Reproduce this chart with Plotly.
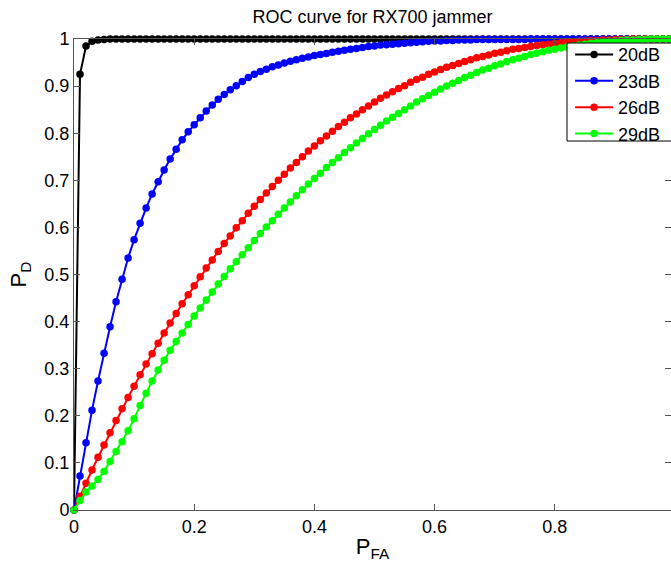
import plotly.graph_objects as go

pfa = [0.00, 0.01, 0.02, 0.03, 0.04, 0.05, 0.06, 0.07, 0.08, 0.09,
       0.10, 0.11, 0.12, 0.13, 0.14, 0.15, 0.16, 0.17, 0.18, 0.19,
       0.20, 0.21, 0.22, 0.23, 0.24, 0.25, 0.26, 0.27, 0.28, 0.29,
       0.30, 0.31, 0.32, 0.33, 0.34, 0.35, 0.36, 0.37, 0.38, 0.39,
       0.40, 0.41, 0.42, 0.43, 0.44, 0.45, 0.46, 0.47, 0.48, 0.49,
       0.50, 0.51, 0.52, 0.53, 0.54, 0.55, 0.56, 0.57, 0.58, 0.59,
       0.60, 0.61, 0.62, 0.63, 0.64, 0.65, 0.66, 0.67, 0.68, 0.69,
       0.70, 0.71, 0.72, 0.73, 0.74, 0.75, 0.76, 0.77, 0.78, 0.79,
       0.80, 0.81, 0.82, 0.83, 0.84, 0.85, 0.86, 0.87, 0.88, 0.89,
       0.90, 0.91, 0.92, 0.93, 0.94, 0.95, 0.96, 0.97, 0.98, 0.99,
       1.00]

pd_20db = [0.000, 0.925, 0.985, 0.995, 0.998, 0.999, 1.000, 1.000, 1.000, 1.000,
           1.000, 1.000, 1.000, 1.000, 1.000, 1.000, 1.000, 1.000, 1.000, 1.000,
           1.000, 1.000, 1.000, 1.000, 1.000, 1.000, 1.000, 1.000, 1.000, 1.000,
           1.000, 1.000, 1.000, 1.000, 1.000, 1.000, 1.000, 1.000, 1.000, 1.000,
           1.000, 1.000, 1.000, 1.000, 1.000, 1.000, 1.000, 1.000, 1.000, 1.000,
           1.000, 1.000, 1.000, 1.000, 1.000, 1.000, 1.000, 1.000, 1.000, 1.000,
           1.000, 1.000, 1.000, 1.000, 1.000, 1.000, 1.000, 1.000, 1.000, 1.000,
           1.000, 1.000, 1.000, 1.000, 1.000, 1.000, 1.000, 1.000, 1.000, 1.000,
           1.000, 1.000, 1.000, 1.000, 1.000, 1.000, 1.000, 1.000, 1.000, 1.000,
           1.000, 1.000, 1.000, 1.000, 1.000, 1.000, 1.000, 1.000, 1.000, 1.000,
           1.000]

pd_23db = [0.000, 0.072, 0.143, 0.212, 0.274, 0.333, 0.389, 0.442, 0.490, 0.535,
           0.574, 0.609, 0.641, 0.671, 0.697, 0.722, 0.745, 0.766, 0.786, 0.803,
           0.818, 0.833, 0.847, 0.860, 0.872, 0.882, 0.892, 0.901, 0.910, 0.918,
           0.925, 0.931, 0.936, 0.941, 0.945, 0.949, 0.953, 0.956, 0.959, 0.962,
           0.965, 0.967, 0.969, 0.972, 0.974, 0.976, 0.978, 0.980, 0.982, 0.984,
           0.985, 0.987, 0.988, 0.989, 0.990, 0.991, 0.992, 0.993, 0.994, 0.995,
           0.996, 0.996, 0.997, 0.997, 0.998, 0.998, 0.998, 0.999, 0.999, 0.999,
           0.999, 0.999, 0.999, 0.999, 0.999, 0.999, 1.000, 1.000, 1.000, 1.000,
           1.000, 1.000, 1.000, 1.000, 1.000, 1.000, 1.000, 1.000, 1.000, 1.000,
           1.000, 1.000, 1.000, 1.000, 1.000, 1.000, 1.000, 1.000, 1.000, 1.000,
           1.000]

pd_26db = [0.000, 0.029, 0.057, 0.085, 0.112, 0.138, 0.164, 0.190, 0.215, 0.239,
           0.263, 0.287, 0.310, 0.332, 0.354, 0.376, 0.397, 0.417, 0.438, 0.457,
           0.476, 0.495, 0.514, 0.531, 0.549, 0.566, 0.582, 0.599, 0.614, 0.630,
           0.645, 0.659, 0.673, 0.687, 0.700, 0.713, 0.726, 0.738, 0.750, 0.762,
           0.773, 0.784, 0.794, 0.804, 0.814, 0.823, 0.833, 0.841, 0.850, 0.858,
           0.866, 0.874, 0.881, 0.888, 0.895, 0.901, 0.908, 0.914, 0.919, 0.925,
           0.930, 0.935, 0.940, 0.944, 0.948, 0.952, 0.956, 0.960, 0.963, 0.966,
           0.970, 0.972, 0.975, 0.978, 0.980, 0.982, 0.984, 0.986, 0.988, 0.989,
           0.991, 0.992, 0.993, 0.994, 0.995, 0.996, 0.997, 0.997, 0.998, 0.998,
           0.999, 0.999, 0.999, 1.000, 1.000, 1.000, 1.000, 1.000, 1.000, 1.000,
           1.000]

pd_29db = [0.000, 0.020, 0.038, 0.051, 0.065, 0.082, 0.103, 0.124, 0.145, 0.168,
           0.194, 0.222, 0.248, 0.274, 0.297, 0.318, 0.339, 0.358, 0.376, 0.394,
           0.412, 0.429, 0.446, 0.463, 0.480, 0.496, 0.512, 0.527, 0.542, 0.557,
           0.572, 0.587, 0.601, 0.614, 0.628, 0.641, 0.654, 0.667, 0.680, 0.692,
           0.704, 0.715, 0.727, 0.738, 0.748, 0.759, 0.769, 0.779, 0.789, 0.799,
           0.808, 0.817, 0.826, 0.834, 0.842, 0.850, 0.858, 0.866, 0.873, 0.880,
           0.887, 0.894, 0.900, 0.906, 0.912, 0.918, 0.923, 0.929, 0.934, 0.938,
           0.943, 0.947, 0.952, 0.956, 0.959, 0.963, 0.967, 0.970, 0.973, 0.976,
           0.978, 0.981, 0.983, 0.985, 0.987, 0.989, 0.991, 0.992, 0.994, 0.995,
           0.996, 0.997, 0.998, 0.998, 0.999, 0.999, 1.000, 1.000, 1.000, 1.000,
           1.000]

series_names = ["20dB", "23dB", "26dB", "29dB"]
series_values = [pd_20db, pd_23db, pd_26db, pd_29db]
series_colors = ["#000000", "#0000FF", "#FF0000", "#00FF00"]

x_tick_vals = [0, 0.2, 0.4, 0.6, 0.8]
x_tick_text = ["0", "0.2", "0.4", "0.6", "0.8"]
y_tick_vals = [0, 0.1, 0.2, 0.3, 0.4, 0.5, 0.6, 0.7, 0.8, 0.9, 1.0]
y_tick_text = ["0", "0.1", "0.2", "0.3", "0.4", "0.5", "0.6", "0.7", "0.8", "0.9", "1"]

FONT = "Liberation Sans, Arial, sans-serif"
AX = "#555555"

fig = go.Figure()
for name, vals, col in zip(series_names, series_values, series_colors):
    fig.add_trace(go.Scatter(
        x=pfa, y=vals, name=name, mode="lines+markers",
        line=dict(color=col, width=2),
        marker=dict(color=col, size=7.5),
        cliponaxis=False,
    ))

# helper trace for right-side tick marks
fig.add_trace(go.Scatter(x=[0], y=[0], yaxis="y2", mode="markers",
                         marker=dict(opacity=0), showlegend=False, hoverinfo="skip"))

# legend frame (the reference's legend box runs past the right edge of the image)
fig.add_shape(type="rect", xref="paper", yref="paper", layer="above",
              x0=0.8258, x1=1.03, y0=0.7834, y1=0.9915,
              line=dict(color="black", width=1), fillcolor="white")

fig.update_layout(
    width=671, height=562,
    margin=dict(l=74, r=0, t=39, b=52),
    paper_bgcolor="white", plot_bgcolor="white",
    font=dict(family=FONT, size=18, color="black"),
    title=dict(text="ROC curve for RX700 jammer", x=0.5, xref="paper", xanchor="center",
               y=1 - 17 / 562, yref="container", yanchor="middle",
               font=dict(family=FONT, size=18, color="black")),
    xaxis=dict(range=[0, 0.9933], tickvals=x_tick_vals, ticktext=x_tick_text,
               ticks="inside", ticklen=6, tickcolor=AX, showline=True, linecolor=AX,
               linewidth=1, mirror="ticks", showgrid=False, zeroline=False,
               title=dict(text="P<sub>FA</sub>", standoff=4)),
    yaxis=dict(range=[0, 1], tickvals=y_tick_vals, ticktext=y_tick_text,
               ticks="inside", ticklen=6, tickcolor=AX, showline=True, linecolor=AX,
               linewidth=1, showgrid=False, zeroline=False,
               title=dict(text="P<sub>D</sub>", standoff=11)),
    yaxis2=dict(range=[0, 1], overlaying="y", side="right", tickvals=y_tick_vals,
                ticks="inside", ticklen=6, tickcolor=AX, showticklabels=False,
                showline=False, showgrid=False, zeroline=False),
    legend=dict(x=0.8293, y=1.0081, xanchor="left", yanchor="top",
                bgcolor="rgba(0,0,0,0)", bordercolor="rgba(0,0,0,0)", borderwidth=1,
                font=dict(family=FONT, size=18, color="black"),
                tracegroupgap=0, itemwidth=38),
    showlegend=True,
)

fig.write_html("out.html")
